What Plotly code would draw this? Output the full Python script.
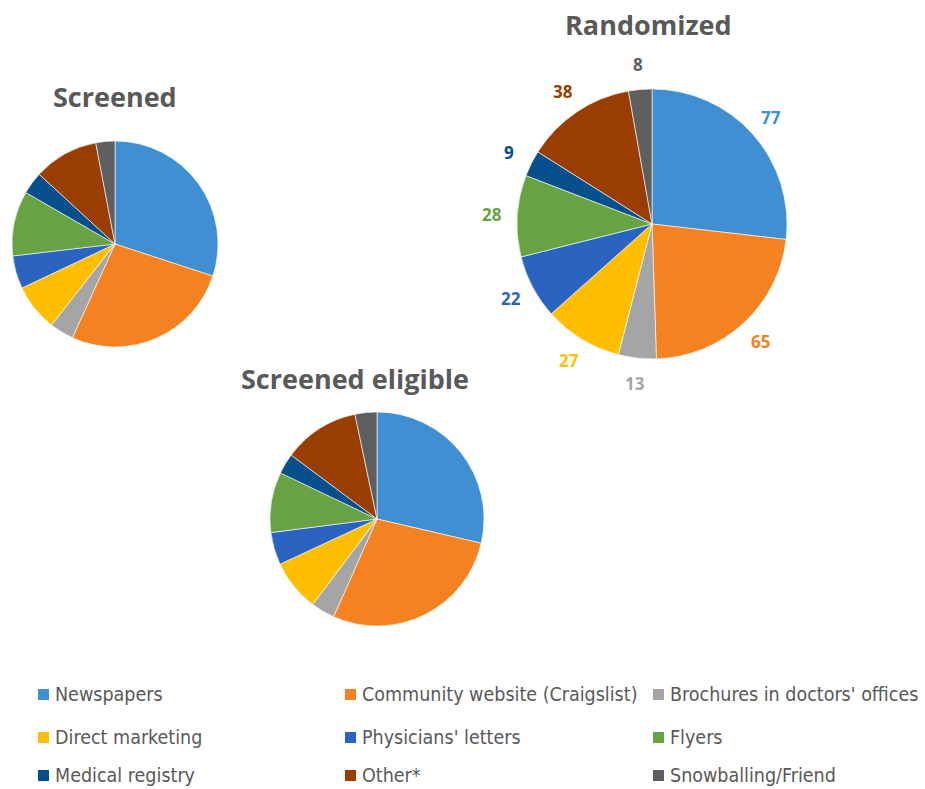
import math
import plotly.graph_objects as go

W, H = 925, 789

categories = ["Newspapers", "Community website (Craigslist)", "Brochures in doctors' offices",
              "Direct marketing", "Physicians' letters", "Flyers",
              "Medical registry", "Other*", "Snowballing/Friend"]
colors = ["#3F8FD2", "#F58220", "#A5A5A5", "#FFBF00", "#2A64C0", "#67A243",
          "#054F8C", "#993E00", "#5E5E5E"]

# Percent shares (no labels shown on these two pies)
screened = [30.1, 26.8, 3.8, 7.4, 5.2, 10.2, 3.5, 10.2, 3.0]
screened_eligible = [28.6, 28.0, 3.6, 7.8, 4.9, 9.1, 3.1, 11.5, 3.3]
# Counts shown on the Randomized pie
randomized = [77, 65, 13, 27, 22, 28, 9, 38, 8]

titles = ["Screened", "Randomized", "Screened eligible"]

def px_x(a, b):
    return [a / W, b / W]

def px_y(top, bottom):
    return [1 - bottom / H, 1 - top / H]

fig = go.Figure()

common = dict(labels=categories, sort=False, direction="clockwise", rotation=0,
              marker=dict(colors=colors, line=dict(color="white", width=0.6)),
              showlegend=False, hoverinfo="label+value", textinfo="none")

fig.add_trace(go.Pie(values=screened,
                     domain=dict(x=px_x(12, 218), y=px_y(141, 347)), **common))
fig.add_trace(go.Pie(values=screened_eligible,
                     domain=dict(x=px_x(270, 484), y=px_y(412, 626)), **common))
R_BOX = (517, 787, 89, 359)
fig.add_trace(go.Pie(values=randomized,
                     domain=dict(x=px_x(R_BOX[0], R_BOX[1]), y=px_y(R_BOX[2], R_BOX[3])), **common))

title_font = dict(family="Open Sans", size=27, color="#595959", weight="bold")
title_pos = [(115, 97), (648, 25), (355, 378)]
annotations = []
for t, (x, y) in zip(titles, title_pos):
    annotations.append(dict(text=t, x=x / W, y=1 - y / H, xref="paper", yref="paper",
                            showarrow=False, xanchor="center", yanchor="middle", font=title_font))

# Value labels around the Randomized pie, placed at each slice's mid-angle
cx = (R_BOX[0] + R_BOX[1]) / 2
cy = (R_BOX[2] + R_BOX[3]) / 2
label_r = 160
total = sum(randomized)
cum = 0
for v, col in zip(randomized, colors):
    mid = (cum + v / 2) / total * 2 * math.pi
    cum += v
    lx = cx + label_r * math.sin(mid)
    ly = cy - label_r * math.cos(mid)
    annotations.append(dict(text=str(v), x=lx / W, y=1 - ly / H, xref="paper", yref="paper",
                            showarrow=False, xanchor="center", yanchor="middle",
                            font=dict(family="Open Sans", size=17, color=col, weight="bold")))

# Legend (3 columns x 3 rows)
col_x = [38, 345, 653]
row_y = [694, 737, 775]
shapes = []
for i, (cat, col) in enumerate(zip(categories, colors)):
    lx = col_x[i % 3]
    ly = row_y[i // 3]
    shapes.append(dict(type="rect", xref="paper", yref="paper",
                       x0=lx / W, x1=(lx + 11) / W,
                       y0=1 - (ly + 6) / H, y1=1 - (ly - 5) / H,
                       fillcolor=col, line=dict(width=0)))
    annotations.append(dict(text=cat, x=(lx + 15) / W, y=1 - ly / H, xref="paper", yref="paper",
                            showarrow=False, xanchor="left", yanchor="middle",
                            font=dict(family="Liberation Sans Narrow, DejaVu Sans Condensed, Open Sans",
                                      size=19.5, color="#595959")))

fig.update_layout(width=W, height=H, margin=dict(l=0, r=0, t=0, b=0),
                  paper_bgcolor="white", plot_bgcolor="white",
                  annotations=annotations, shapes=shapes)

fig.write_html("out.html")
